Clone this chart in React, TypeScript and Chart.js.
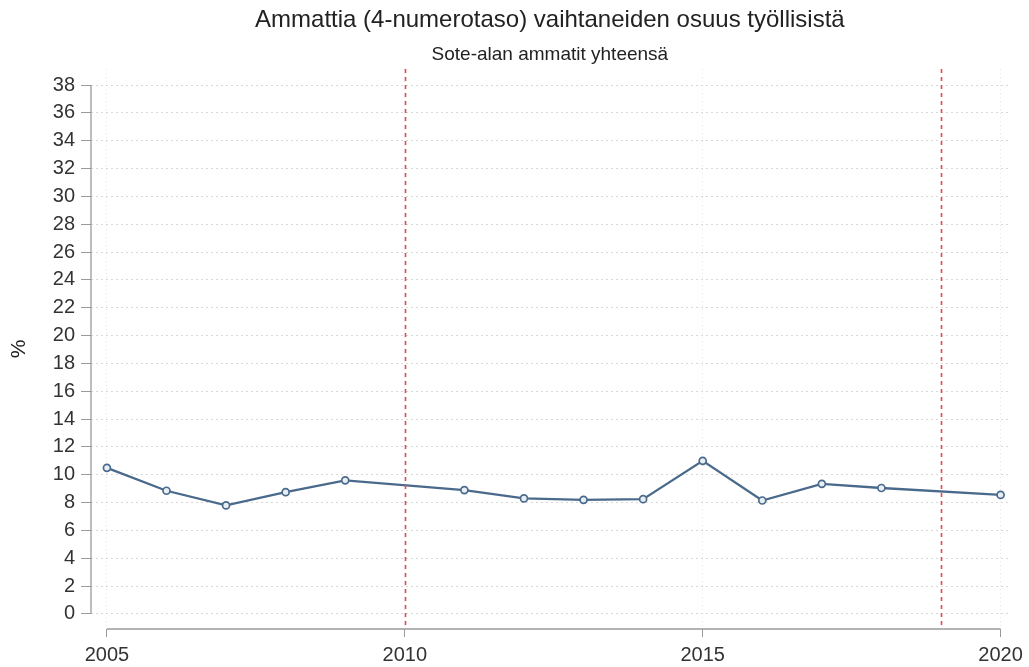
import React, { useEffect, useRef } from "react";
import { Chart, registerables } from "chart.js";

Chart.register(...registerables);

const years = [2005, 2006, 2007, 2008, 2009, 2010, 2011, 2012, 2013, 2014, 2015, 2016, 2017, 2018, 2019, 2020];
const shareValues: (number | null)[] = [10.5, 8.85, 7.8, 8.75, 9.6, null, 8.9, 8.3, 8.2, 8.25, 11.0, 8.15, 9.35, 9.05, null, 8.55];
const refYears = [2010, 2019];
const yTickValues = [0, 2, 4, 6, 8, 10, 12, 14, 16, 18, 20, 22, 24, 26, 28, 30, 32, 34, 36, 38];
const xTickValues = [2005, 2010, 2015, 2020];
const titleText = "Ammattia (4-numerotaso) vaihtaneiden osuus työllisistä";
const subtitleText = "Sote-alan ammatit yhteensä";
const yAxisLabel = "%";

const FONT = "'Liberation Sans', Arial, sans-serif";
const AXIS_COLOR = "#9a9a9a";

const axesAndRefLinesPlugin = {
  id: "axesAndRefLines",
  beforeDatasetsDraw(chart: any) {
    const { ctx, chartArea, scales } = chart;
    ctx.save();
    ctx.strokeStyle = AXIS_COLOR;
    ctx.lineWidth = 1.3;
    ctx.setLineDash([]);
    const yx = chartArea.left;
    ctx.beginPath();
    ctx.moveTo(yx, scales.y.getPixelForValue(yTickValues[0]));
    ctx.lineTo(yx, scales.y.getPixelForValue(yTickValues[yTickValues.length - 1]));
    ctx.stroke();
    const xy = chartArea.bottom;
    ctx.beginPath();
    ctx.moveTo(scales.x.getPixelForValue(xTickValues[0]), xy);
    ctx.lineTo(scales.x.getPixelForValue(xTickValues[xTickValues.length - 1]), xy);
    ctx.stroke();
    ctx.restore();
  },
  afterDatasetsDraw(chart: any) {
    const { ctx, chartArea, scales } = chart;
    ctx.save();
    ctx.strokeStyle = "#e8474f";
    ctx.lineWidth = 1.6;
    ctx.setLineDash([4, 4]);
    refYears.forEach((yr) => {
      const x = Math.round(scales.x.getPixelForValue(yr)) + 0.5;
      ctx.beginPath();
      ctx.moveTo(x, chartArea.top);
      ctx.lineTo(x, chartArea.bottom - 3);
      ctx.stroke();
    });
    ctx.restore();
  },
};

export default function App() {
  const ref = useRef<HTMLCanvasElement | null>(null);
  useEffect(() => {
    if (!ref.current) return;
    const chart = new Chart(ref.current, {
      type: "line",
      data: {
        datasets: [
          {
            data: years.map((y, i) => ({ x: y, y: shareValues[i] })) as any,
            borderColor: "#4a6a8c",
            borderWidth: 2.3,
            pointRadius: 3.5,
            pointBorderWidth: 1.7,
            pointBackgroundColor: "#e9eef3",
            pointBorderColor: "#4a6a8c",
            spanGaps: true,
            tension: 0,
          },
        ],
      },
      options: {
        animation: false,
        responsive: true,
        maintainAspectRatio: false,
        layout: { padding: { top: 0, right: 17, bottom: 0, left: 0 } },
        plugins: {
          legend: { display: false },
          tooltip: { enabled: false },
          title: {
            display: true,
            text: titleText,
            fullSize: false,
            color: "#222",
            font: { family: FONT, size: 24, weight: "normal" },
            padding: { top: 5.6, bottom: 0 },
          },
          subtitle: {
            display: true,
            text: subtitleText,
            fullSize: false,
            color: "#222",
            font: { family: FONT, size: 19, weight: "normal" },
            padding: { top: 9.2, bottom: 2.6 },
          },
        },
        scales: {
          x: {
            type: "linear",
            min: 2004.733,
            max: 2020.137,
            afterBuildTicks: (scale: any) => {
              scale.ticks = xTickValues.map((v) => ({ value: v }));
            },
            afterFit: (scale: any) => {
              scale.height = 38;
            },
            ticks: {
              color: "#333",
              font: { family: FONT, size: 20 },
              padding: 6,
              maxRotation: 0,
              autoSkip: false,
              callback: (v: any) => String(v),
            },
            grid: {
              color: "rgba(200,200,200,0.45)",
              tickColor: AXIS_COLOR,
              tickLength: 8,
              lineWidth: 1,
            },
            border: { display: false, dash: [1, 3] },
          },
          y: {
            type: "linear",
            min: -1.08,
            max: 39.15,
            afterBuildTicks: (scale: any) => {
              scale.ticks = yTickValues.map((v) => ({ value: v }));
            },
            afterFit: (scale: any) => {
              scale.width = 91;
            },
            ticks: {
              color: "#333",
              font: { family: FONT, size: 20 },
              padding: 6,
              autoSkip: false,
              callback: (v: any) => String(v),
            },
            title: {
              display: true,
              text: yAxisLabel,
              color: "#222",
              font: { family: FONT, size: 21 },
              padding: { top: 7, bottom: 0 },
            },
            grid: {
              color: "rgba(200,200,200,0.7)",
              tickColor: AXIS_COLOR,
              tickLength: 10,
              lineWidth: 1,
            },
            border: { display: false, dash: [2, 3] },
          },
        },
      } as any,
      plugins: [axesAndRefLinesPlugin],
    });
    return () => chart.destroy();
  }, []);
  return (
    <div style={{ position: "absolute", left: 0, top: 0, width: 1029, height: 667, background: "#fff" }}>
      <canvas ref={ref} />
    </div>
  );
}
